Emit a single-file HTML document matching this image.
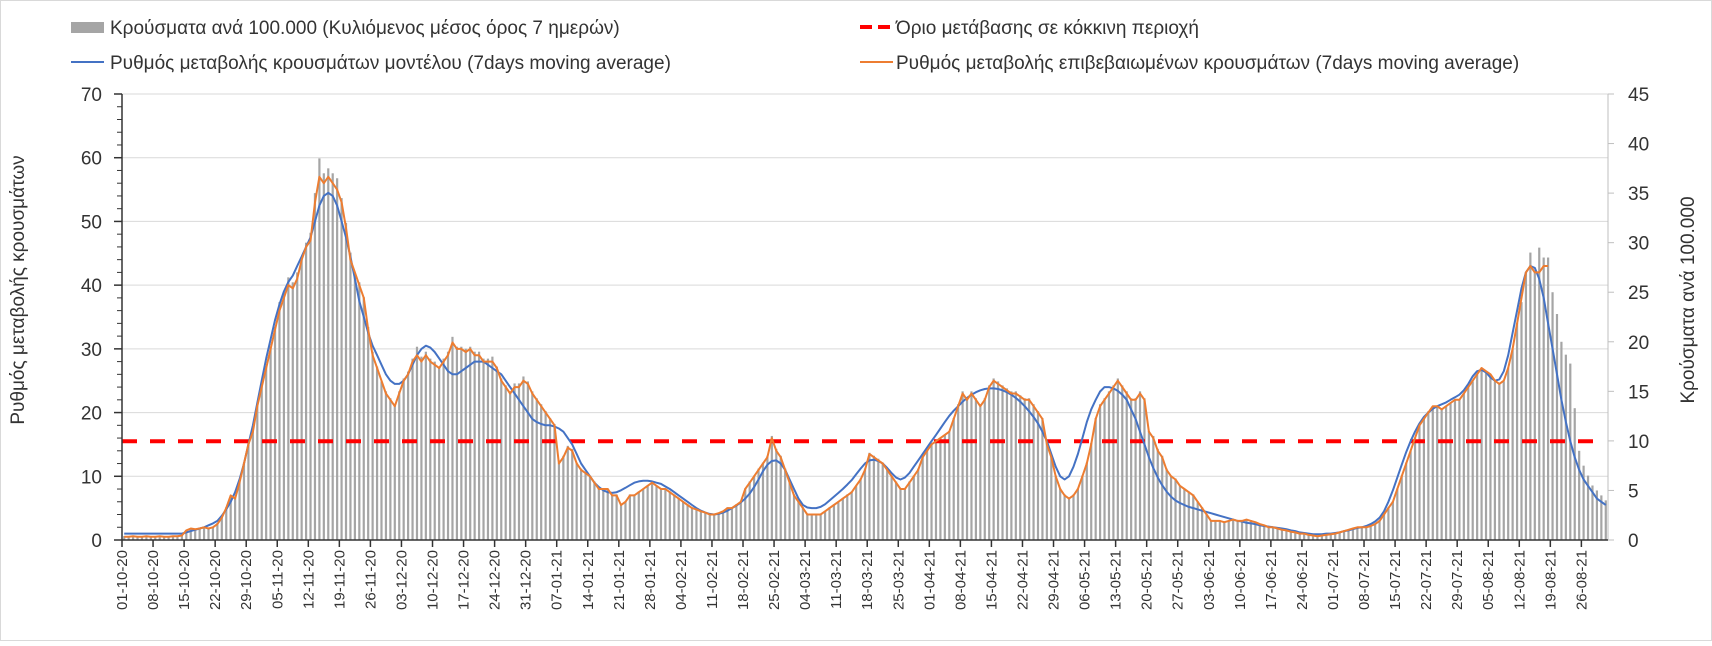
<!DOCTYPE html>
<html><head><meta charset="utf-8">
<style>
html,body{margin:0;padding:0;background:#fff;}
body{width:1712px;height:641px;overflow:hidden;font-family:"Liberation Sans","DejaVu Sans",sans-serif;}
svg text{font-family:"Liberation Sans","DejaVu Sans",sans-serif;fill:#333;}
</style></head>
<body>
<svg id="chart" width="1712" height="641" viewBox="0 0 1712 641" xmlns="http://www.w3.org/2000/svg">
<rect x="0.5" y="0.5" width="1711" height="640" fill="#fff" stroke="#d9d9d9"/>
<g id="grid"></g>
<g id="bars"></g>
<g id="lines"></g>
<g id="axes"></g>
<g>
 <g>
  <rect x="71" y="22" width="33" height="11" fill="#a5a5a5"/>
  <text x="110" y="34" font-size="19">Κρούσματα ανά 100.000 (Κυλιόμενος μέσος όρος 7 ημερών)</text>
 </g>
 <g>
  <line x1="860" y1="27" x2="893" y2="27" stroke="#ff0000" stroke-width="4" stroke-dasharray="12,6"/>
  <text x="896" y="34" font-size="19">Όριο μετάβασης σε κόκκινη περιοχή</text>
 </g>
 <g>
  <line x1="71" y1="62" x2="104" y2="62" stroke="#4472c4" stroke-width="2"/>
  <text x="110" y="69" font-size="19">Ρυθμός μεταβολής κρουσμάτων μοντέλου (7days moving average)</text>
 </g>
 <g>
  <line x1="860" y1="62" x2="893" y2="62" stroke="#ed7d31" stroke-width="2"/>
  <text x="896" y="69" font-size="19">Ρυθμός μεταβολής επιβεβαιωμένων κρουσμάτων (7days moving average)</text>
 </g>
</g>
<text transform="translate(24,290) rotate(-90)" text-anchor="middle" font-size="19">Ρυθμός μεταβολής κρουσμάτων</text>
<text transform="translate(1694,300) rotate(-90)" text-anchor="middle" font-size="19">Κρούσματα ανά 100.000</text>
</svg>
<script>
const bars = [0.4,0.4,0.4,0.3,0.4,0.4,0.3, 0.4,0.4,0.3,0.4,0.4,0.4,0.5, 1.0,1.2,1.1,1.2,1.3,1.2,1.3, 1.7,2.3,3.3,4.5,4.2,5.9,7.8, 9.8,11,13.6,15.6,17.5,19.5,21.5, 24,25,26.5,26,27,28.5,30, 31,35,38.5,37,37.5,37,36.5, 34.5,32,29,27,26,24.5,21.5, 19,17.5,16,15,14.3,13.6,15, 16.3,17,18.3,19.5,18.5,19,18.3, 18,17.5,18.3,19,20.5,19.5,19.5, 19.3,19.5,19,19,18.3,18.3,18.5, 17.5,16.3,15.6,15,15.8,15.8,16.5, 16,15,14.3,13.7,13,12.3,11.7, 7.8,8.5,9.5,9.2,7.8,7.2,6.8, 6.5,5.9,5.2,5.2,5.2,4.6,4.6, 3.6,3.9,4.6,4.6,4.9,5.2,5.5, 5.9,5.5,5.2,5.2,4.9,4.6,4.2, 3.9,3.6,3.3,3.1,2.9,2.8,2.6, 2.6,2.7,2.9,3.3,3.3,3.6,3.9, 5.2,5.9,6.5,7.2,7.8,8.5,10.5, 9.2,8.5,7.2,5.9,4.6,3.9,3.3, 2.6,2.6,2.6,2.6,2.9,3.3,3.6, 3.9,4.2,4.6,4.9,5.5,6.2,7.2, 8.8,8.5,8.2,7.8,7.2,6.5,5.9, 5.2,5.2,5.9,6.5,7.2,8.5,9.2, 9.8,10,10.3,10.6,11,12.3,13.7, 15,14.3,15,14.3,13.7,14.3,15.6, 16.3,16,15.6,15.3,15,15,14.6, 14.3,14.3,13.7,13,12.3,9.8,8.5, 6.5,5.2,4.6,4.2,4.6,5.2,6.5, 7.8,9.8,12.3,13.7,14.3,15,15.6, 16.3,15.6,15,14.3,14.3,15,14.3, 11,10.5,9.2,8.5,7.2,6.5,6.2, 5.5,5.2,4.9,4.6,3.9,3.3,2.6, 2,2,2,1.8,2,2.1,2, 2,2.1,2,1.8,1.6,1.5,1.3, 1.3,1.2,1,1,0.8,0.8,0.6, 0.6,0.5,0.5,0.4,0.5,0.5,0.6, 0.6,0.8,0.9,1,1.2,1.3,1.3, 1.3,1.4,1.6,2,2.6,3.3,3.9, 5.2,6.5,7.8,9,10.3,11.6,12.3, 13,13.5,13.5,13.2,13.5,13.8,14.2, 14.2,14.8,15.4,16,16.7,17.4,17, 16.7,16,15.8,16,17.4,19.3,21.9, 24,27,29,27,29.5,28.5,28.5, 25,22.8,20,18.7,17.8,13.3,9,7.5,6.5,5.5,5,4.5,4];
const confirmedRate = [0.5,0.5,0.6,0.5,0.5,0.6,0.5, 0.5,0.6,0.5,0.5,0.6,0.6,0.7, 1.5,1.8,1.7,1.8,2.0,1.8,2.0, 2.5,3.5,5,7,6.5,9,12, 15,17,21,24,27,30,33, 36,38,40,39.5,41,44,46, 47,53,57,56,57,56,55, 53,49,44,42,40,38,33, 29,27,25,23,22,21,23, 25,26,28,29,28,29,28, 27.5,27,28,29,31,30,30, 29.5,30,29,29,28,28,28, 27,25,24,23,24,24,25, 24.5,23,22,21,20,19,18, 12,13,14.5,14,12,11,10.5, 10,9,8,8,8,7,7, 5.5,6,7,7,7.5,8,8.5, 9,8.5,8,8,7.5,7,6.5, 6,5.5,5,4.8,4.5,4.3,4, 4,4.2,4.5,5,5,5.5,6, 8,9,10,11,12,13,16, 14,13,11,9,7,6,5, 4,4,4,4,4.5,5,5.5, 6,6.5,7,7.5,8.5,9.5,11, 13.5,13,12.5,12,11,10,9, 8,8,9,10,11,13,14, 15,15.5,16,16.5,17,19,21, 23,22,23,22,21,22,24, 25,24.5,24,23.5,23,23,22.5, 22,22,21,20,19,15,13, 10,8,7,6.5,7,8,10, 12,15,19,21,22,23,24, 25,24,23,22,22,23,22, 17,16,14,13,11,10,9.5, 8.5,8,7.5,7,6,5,4, 3,3,3,2.8,3,3.2,3, 3,3.2,3,2.8,2.5,2.3,2, 2,1.8,1.6,1.5,1.3,1.2,1, 1,0.8,0.7,0.6,0.7,0.8,0.9, 1,1.2,1.4,1.6,1.8,2,2, 2,2.2,2.5,3,4,5,6, 8,10,12,14,16,18,19, 20,21,21,20.5,21,21.5,22, 22,23,24,25,26,27,26.5, 26,25,24.5,25,27,30,34, 38,42,43,42,42,43,43];
const modelRate = [1,1,1,1,1,1,1, 1,1,1,1,1,1,1, 1.2,1.4,1.6,1.8,2,2.3,2.6, 3,3.8,4.8,6,7.5,9.5,12, 15,18,21.5,25,28.5,31.5,34.5, 37,39,40.5,41.5,43,44.5,46, 47.5,50,52.5,54,54.5,54,52.5, 50,47.5,44.5,41,37.5,35,32.5, 30.5,29,27.5,26,25,24.5,24.5, 25,26,27.5,29,30,30.5,30.2, 29.5,28.5,27.5,26.5,26,26,26.5, 27,27.5,28,28,28,27.5,27, 26.5,26,25,24,23,22,21, 20,19,18.5,18.2,18,18,17.8, 17.5,17,16,15,13.5,12,11, 10,9,8.3,7.8,7.5,7.4,7.5, 7.8,8.2,8.6,9,9.2,9.3,9.3, 9.2,9,8.8,8.4,8,7.5,7, 6.5,6,5.5,5,4.6,4.3,4.1, 4,4.1,4.3,4.6,5,5.4,5.9, 6.5,7.3,8.3,9.5,10.8,11.8,12.4, 12.5,12,11,9.5,8,6.5,5.5, 5.1,5,5,5.2,5.6,6.2,6.8, 7.4,8,8.7,9.4,10.3,11.2,12, 12.5,12.6,12.4,12,11.3,10.5,9.8, 9.5,9.8,10.5,11.5,12.5,13.5,14.5, 15.5,16.5,17.5,18.5,19.5,20.3,21, 21.7,22.3,22.8,23.2,23.5,23.7,23.8, 23.8,23.7,23.5,23.2,22.8,22.3,21.7, 21,20.2,19.3,18.3,17,15.5,13.5, 11.5,10,9.5,10,11.5,13.5,16, 18.5,20.5,22,23.3,24,24,23.8, 23.4,22.8,22,20.5,19,17,15, 13,11.3,9.8,8.6,7.6,6.8,6.2, 5.8,5.5,5.2,5,4.8,4.6,4.4, 4.2,4,3.8,3.6,3.4,3.2,3, 2.9,2.7,2.6,2.5,2.3,2.2,2.1, 2,1.9,1.8,1.7,1.5,1.4,1.2, 1.1,1,0.9,0.9,0.9,1,1, 1.1,1.2,1.4,1.5,1.7,1.9,2, 2.2,2.5,2.9,3.5,4.5,6,7.8, 9.8,11.8,13.8,15.5,17,18.3,19.3, 20,20.6,21,21.3,21.6,22,22.4, 22.8,23.5,24.5,25.7,26.5,26.7,26.3, 25.5,25,25.2,26.5,29,32.5,36, 39.5,42,43,42.7,41,38,34, 30,26,22,18.5,15.5,13,11,9.5,8.5,7.5,6.5,6,5.5];
const threshold = 15.5;
const leftTicks = [0,10,20,30,40,50,60,70];
const rightTicks = [0,5,10,15,20,25,30,35,40,45];
const startDate = [2020,9,1];

const NS='http://www.w3.org/2000/svg';
const X0=122, X1=1608, Y0=540, YT=94;
const N=bars.length;
const dw=(X1-X0)/N;
const xAt=i=>X0+(i+0.5)*dw;
const xEdge=i=>X0+i*dw;
const yL=v=>Y0-v*(Y0-YT)/70;
const yR=v=>Y0-v*(Y0-YT)/45;
function mk(tag,attrs,parent){const e=document.createElementNS(NS,tag);for(const k in attrs)e.setAttribute(k,attrs[k]);parent.appendChild(e);return e;}
const grid=document.getElementById('grid'),barsG=document.getElementById('bars'),linesG=document.getElementById('lines'),axes=document.getElementById('axes');

leftTicks.forEach(v=>{
  if(v>0){const g=mk('line',{x1:X0,x2:X1,y1:yL(v),y2:yL(v),stroke:'#d9d9d9','stroke-width':1},grid);
  
  }
  const t=mk('text',{x:102,y:yL(v)+7,'text-anchor':'end','font-size':19},axes);t.textContent=v;
  
  
  mk('line',{x1:X0-8,x2:X0,y1:yL(v),y2:yL(v),stroke:'#333','stroke-width':1.5},axes);
});
for(let v=2;v<70;v+=2){if(v%10)mk('line',{x1:X0-5,x2:X0,y1:yL(v),y2:yL(v),stroke:'#333','stroke-width':1},axes);}
rightTicks.forEach(v=>{
  const t=mk('text',{x:1628,y:yR(v)+7,'font-size':19},axes);t.textContent=v;
  
  
  mk('line',{x1:X1,x2:X1+6,y1:yR(v),y2:yR(v),stroke:'#bfbfbf','stroke-width':1},axes);
});

bars.forEach((v,i)=>{
  const r=mk('rect',{x:xAt(i)-1.1,y:yR(v),width:2.2,height:Y0-yR(v),fill:'#a5a5a5'},barsG);
  
  
});

const th=mk('line',{x1:X0,x2:X1-8,y1:yL(threshold),y2:yL(threshold),stroke:'#ff0000','stroke-width':4,'stroke-dasharray':'15,13'},linesG);



function poly(arr,color,name){
  const p=mk('polyline',{points:arr.map((v,i)=>xAt(i).toFixed(1)+','+yL(v).toFixed(1)).join(' '),fill:'none',stroke:color,'stroke-width':2,'stroke-linejoin':'round'},linesG);
  
  
}
poly(modelRate,'#4472c4','model-rate-line');
poly(confirmedRate,'#ed7d31','confirmed-rate-line');

mk('line',{x1:X0,x2:X0,y1:YT,y2:Y0,stroke:'#333','stroke-width':1.5},axes);
mk('line',{x1:X1,x2:X1,y1:YT,y2:Y0,stroke:'#bfbfbf','stroke-width':1},axes);
mk('line',{x1:X0,x2:X1,y1:Y0,y2:Y0,stroke:'#333','stroke-width':1.5},axes);
const pad=n=>(n<10?'0':'')+n;
for(let i=0;i<N;i+=7){
  const d=new Date(startDate[0],startDate[1],startDate[2]+i);
  const x=xEdge(i);
  mk('line',{x1:x,x2:x,y1:Y0,y2:Y0+7,stroke:'#333','stroke-width':1.5},axes);
  const t=mk('text',{transform:`translate(${x+5},${Y0+10}) rotate(-90)`,'text-anchor':'end','font-size':15},axes);
  t.textContent=pad(d.getDate())+'-'+pad(d.getMonth()+1)+'-'+String(d.getFullYear()).slice(2);
  
  
}
</script>
</body></html>
